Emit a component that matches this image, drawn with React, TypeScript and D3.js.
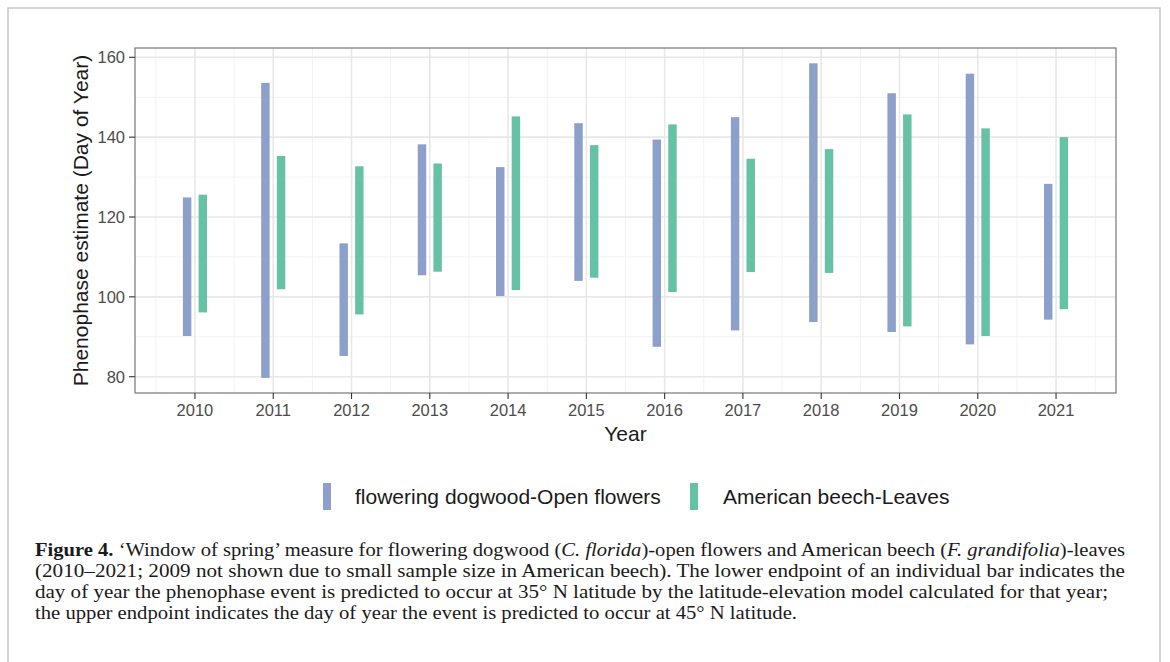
import React from "react";
import * as d3 from "d3";

const years = [2010, 2011, 2012, 2013, 2014, 2015, 2016, 2017, 2018, 2019, 2020, 2021];
const dogwoodLow = [90.2, 79.7, 85.2, 105.4, 100.2, 104.0, 87.5, 91.6, 93.7, 91.2, 88.1, 94.3];
const dogwoodHigh = [124.9, 153.6, 113.4, 138.2, 132.5, 143.5, 139.4, 145.0, 158.5, 151.0, 155.9, 128.3];
const beechLow = [96.1, 101.9, 95.6, 106.3, 101.7, 104.8, 101.2, 106.2, 106.0, 92.6, 90.2, 96.9];
const beechHigh = [125.6, 135.3, 132.7, 133.4, 145.2, 138.0, 143.2, 134.6, 137.0, 145.7, 142.2, 140.0];
const yTicks = [80, 100, 120, 140, 160];
const yMinor = [90, 110, 130, 150];
const seriesNames = ["flowering dogwood-Open flowers", "American beech-Leaves"];
const colors = ["#8DA0CB", "#66C2A5"];

const captionLines = [
  "(2010–2021; 2009 not shown due to small sample size in American beech). The lower endpoint of an individual bar indicates the",
  "day of year the phenophase event is predicted to occur at 35° N latitude by the latitude-elevation model calculated for that year;",
  "the upper endpoint indicates the day of year the event is predicted to occur at 45° N latitude.",
];

export default function App() {
  const W = 1170, H = 662;
  const left = 135, right = 1116, top = 48, bottom = 393;
  const x = d3.scaleLinear().domain([2009.234, 2021.766]).range([left, right]);
  const y = d3.scaleLinear().domain([75.92, 162.33]).range([bottom, top]);
  const half = 0.054;
  const off = 0.1;
  const xMinor = d3.range(2009.5, 2022, 1);
  const sans = "'Liberation Sans', Arial, Helvetica, sans-serif";
  const serif = "'Liberation Serif', 'Times New Roman', serif";
  const capSize = 19.5;
  const tick = 6;

  const series = [
    { low: dogwoodLow, high: dogwoodHigh, dx: -off, color: colors[0] },
    { low: beechLow, high: beechHigh, dx: off, color: colors[1] },
  ];

  return (
    <svg width={W} height={H} style={{ position: "absolute", left: 0, top: 0, background: "#fff" }}>
      <rect x={0} y={0} width={W} height={H} fill="#fff" />
      <rect x={8} y={8} width={1152} height={700} fill="none" stroke="#c6c6c6" strokeWidth={1.5} />
      {/* grid */}
      {yMinor.map((v) => (
        <line key={"ym" + v} x1={left} x2={right} y1={y(v)} y2={y(v)} stroke="#f2f2f2" strokeWidth={1} />
      ))}
      {xMinor.map((v) => (
        <line key={"xm" + v} x1={x(v)} x2={x(v)} y1={top} y2={bottom} stroke="#f2f2f2" strokeWidth={1} />
      ))}
      {yTicks.map((v) => (
        <line key={"yg" + v} x1={left} x2={right} y1={y(v)} y2={y(v)} stroke="#e8e8e8" strokeWidth={1.6} />
      ))}
      {years.map((v) => (
        <line key={"xg" + v} x1={x(v)} x2={x(v)} y1={top} y2={bottom} stroke="#e8e8e8" strokeWidth={1.6} />
      ))}
      {/* bars */}
      {series.map((s, si) =>
        years.map((yr, i) => (
          <rect
            key={si + "-" + yr}
            x={x(yr + s.dx - half)}
            width={x(yr + s.dx + half) - x(yr + s.dx - half)}
            y={y(s.high[i])}
            height={y(s.low[i]) - y(s.high[i])}
            fill={s.color}
          />
        ))
      )}
      <rect x={left} y={top} width={right - left} height={bottom - top} fill="none" stroke="#777" strokeWidth={1.2} />
      {/* y axis */}
      {yTicks.map((v) => (
        <g key={"yt" + v}>
          <line x1={left - tick} x2={left} y1={y(v)} y2={y(v)} stroke="#333" strokeWidth={1.1} />
          <text x={left - 10} y={y(v)} dy="0.36em" textAnchor="end" fontFamily={sans} fontSize={16.5} fill="#4d4d4d">
            {v}
          </text>
        </g>
      ))}
      {years.map((v) => (
        <g key={"xt" + v}>
          <line x1={x(v)} x2={x(v)} y1={bottom} y2={bottom + tick} stroke="#333" strokeWidth={1.1} />
          <text x={x(v)} y={416} textAnchor="middle" fontFamily={sans} fontSize={16.5} fill="#4d4d4d">
            {v}
          </text>
        </g>
      ))}
      <text x={(left + right) / 2} y={441} textAnchor="middle" fontFamily={sans} fontSize={21} fill="#1a1a1a">
        Year
      </text>
      <text
        transform={`translate(88,${(top + bottom) / 2}) rotate(-90)`}
        textAnchor="middle"
        fontFamily={sans}
        fontSize={21}
        fill="#1a1a1a"
      >
        Phenophase estimate (Day of Year)
      </text>
      {/* legend */}
      <rect x={323} y={483} width={8} height={27} fill={colors[0]} />
      <text x={355} y={504} fontFamily={sans} fontSize={21} fill="#1a1a1a">
        {seriesNames[0]}
      </text>
      <rect x={690} y={483} width={8} height={27} fill={colors[1]} />
      <text x={723} y={504} fontFamily={sans} fontSize={21} fill="#1a1a1a">
        {seriesNames[1]}
      </text>
      {/* caption */}
      <text x={35} y={556} fontFamily={serif} fontSize={capSize} fill="#1a1a1a" textLength={1090} lengthAdjust="spacingAndGlyphs">
        <tspan fontWeight="bold">Figure 4.</tspan>
        <tspan> ‘Window of spring’ measure for flowering dogwood (</tspan>
        <tspan fontStyle="italic">C. florida</tspan>
        <tspan>)-open flowers and American beech (</tspan>
        <tspan fontStyle="italic">F. grandifolia</tspan>
        <tspan>)-leaves</tspan>
      </text>
      <text x={35} y={577} fontFamily={serif} fontSize={capSize} fill="#1a1a1a" textLength={1090} lengthAdjust="spacingAndGlyphs">
        {captionLines[0]}
      </text>
      <text x={35} y={598} fontFamily={serif} fontSize={capSize} fill="#1a1a1a" textLength={1073} lengthAdjust="spacingAndGlyphs">
        {captionLines[1]}
      </text>
      <text x={35} y={619} fontFamily={serif} fontSize={capSize} fill="#1a1a1a" textLength={762} lengthAdjust="spacingAndGlyphs">
        {captionLines[2]}
      </text>
    </svg>
  );
}
